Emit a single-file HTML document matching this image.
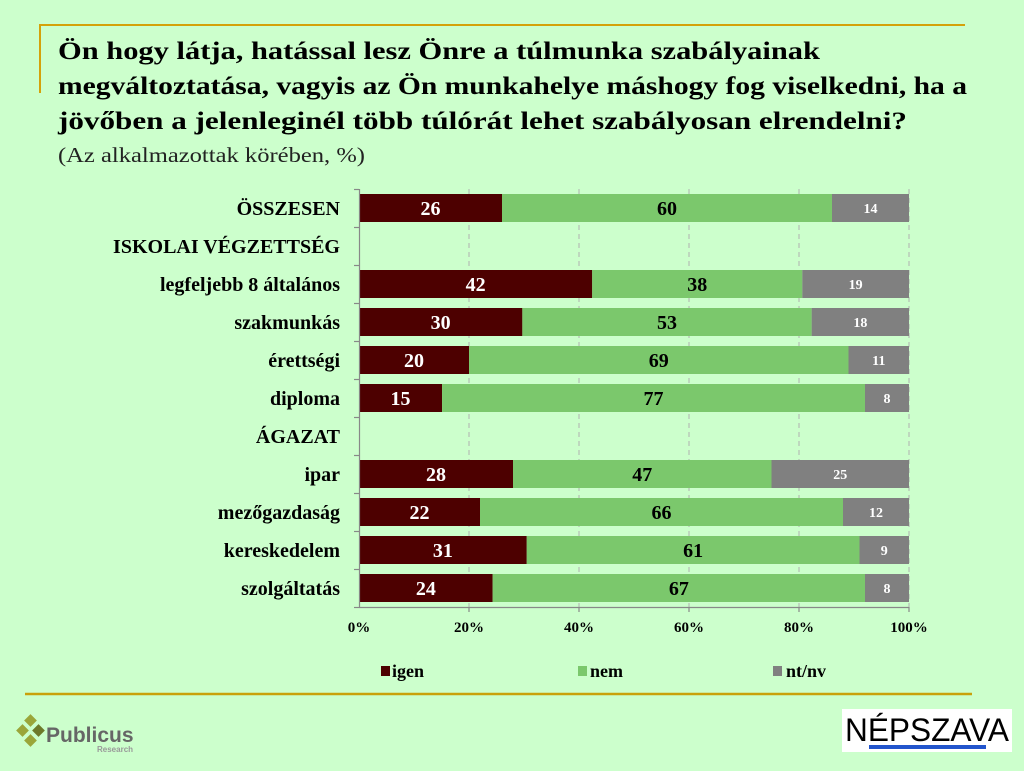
<!DOCTYPE html>
<html><head><meta charset="utf-8"><style>
html,body{margin:0;padding:0;background:#ccffcc;}
svg{display:block;}
</style></head><body>
<svg width="1024" height="771" xmlns="http://www.w3.org/2000/svg" font-family="Liberation Serif, serif">
<rect width="1024" height="771" fill="#ccffcc"/>
<path d="M40 93 V25 H965" fill="none" stroke="#d4a20a" stroke-width="2"/>
<line x1="25" y1="694" x2="972" y2="694" stroke="#c9a10a" stroke-width="2.5"/>
<g font-weight="bold" font-size="25" fill="#000">
<text x="58" y="59" textLength="762" lengthAdjust="spacingAndGlyphs">Ön hogy látja, hatással lesz Önre a túlmunka szabályainak</text>
<text x="58" y="94" textLength="909" lengthAdjust="spacingAndGlyphs">megváltoztatása, vagyis az Ön munkahelye máshogy fog viselkedni, ha a</text>
<text x="58" y="129" textLength="849" lengthAdjust="spacingAndGlyphs">jövőben a jelenleginél több túlórát lehet szabályosan elrendelni?</text>
</g>
<text x="58" y="162" font-size="21" fill="#222" textLength="307" lengthAdjust="spacingAndGlyphs">(Az alkalmazottak körében, %)</text>
<g stroke="#b0b0b0" stroke-dasharray="5,4" stroke-width="1">
<line x1="469" y1="189" x2="469" y2="607"/><line x1="579" y1="189" x2="579" y2="607"/>
<line x1="689" y1="189" x2="689" y2="607"/><line x1="799" y1="189" x2="799" y2="607"/>
<line x1="909" y1="189" x2="909" y2="607"/>
</g>
<g id="bars" font-weight="bold" text-anchor="middle"></g>
<g stroke="#888" stroke-width="1.2">
<line x1="359.5" y1="189" x2="359.5" y2="607"/>
<line x1="359" y1="607.5" x2="909" y2="607.5"/>
</g>
<g id="ticks" stroke="#888" stroke-width="1.2"></g>
<g font-weight="bold" font-size="20" text-anchor="end" fill="#000" id="labels"></g>
<g font-weight="bold" font-size="15" text-anchor="middle">
<text x="359" y="632">0%</text><text x="469" y="632">20%</text><text x="579" y="632">40%</text>
<text x="689" y="632">60%</text><text x="799" y="632">80%</text><text x="909" y="632">100%</text>
</g>
<g font-weight="bold" font-size="18">
<rect x="381" y="666" width="9" height="10" fill="#4d0000"/><text x="392" y="677">igen</text>
<rect x="578" y="666" width="9" height="10" fill="#7bc86c"/><text x="590" y="677">nem</text>
<rect x="773" y="666" width="9" height="10" fill="#808080"/><text x="786" y="677">nt/nv</text>
</g>
<g>
<g fill="#9aa63a"><rect x="26" y="716" width="9" height="9" transform="rotate(45 30.5 720.5)"/>
<rect x="18" y="726" width="9" height="9" transform="rotate(45 22.5 730.5)"/>
<rect x="26" y="736" width="9" height="9" transform="rotate(45 30.5 740.5)"/>
<rect x="34" y="726" width="9" height="9" transform="rotate(45 38.5 730.5)" fill="#6d7a2a"/></g>
<text x="46" y="742" font-family="Liberation Sans, sans-serif" font-weight="bold" font-size="21" fill="#666">Publicus</text>
<text x="97" y="752" font-family="Liberation Sans, sans-serif" font-weight="bold" font-size="8" fill="#999">Research</text>
</g>
<rect x="842" y="709" width="170" height="43" fill="#fff"/>
<text x="845" y="741" font-family="Liberation Sans, sans-serif" font-size="32" fill="#000" textLength="164" lengthAdjust="spacingAndGlyphs">NÉPSZAVA</text>
<rect x="869" y="745" width="117" height="4" fill="#2255cc"/>
<script>
var rows=[["ÖSSZESEN",[26,60,14]],["ISKOLAI VÉGZETTSÉG",null],["legfeljebb 8 általános",[42.4,38.2,19.4]],["szakmunkás",[29.7,52.6,17.7]],["érettségi",[20,69,11]],["diploma",[15.1,76.9,8]],["ÁGAZAT",null],["ipar",[28,47,25]],["mezőgazdaság",[22,66,12]],["kereskedelem",[30.5,60.5,9]],["szolgáltatás",[24.3,67.7,8]]];
var lbl=[[26,60,14],[],[42,38,19],[30,53,18],[20,69,11],[15,77,8],[],[28,47,25],[22,66,12],[31,61,9],[24,67,8]];
var cols=["#4d0000","#7bc86c","#808080"],tc=["#fff","#000","#fff"],fs=[20,20,14];
var ns="http://www.w3.org/2000/svg",B=document.getElementById("bars"),L=document.getElementById("labels"),T=document.getElementById("ticks");
function el(p,n,a,t){var e=document.createElementNS(ns,n);for(var k in a)e.setAttribute(k,a[k]);if(t!=null)e.textContent=t;p.appendChild(e);return e;}
for(var i=0;i<=11;i++)el(T,"line",{x1:354,x2:359,y1:189+i*38+.5,y2:189+i*38+.5});
[469,579,689,799,909].forEach(function(x){el(T,"line",{x1:x,x2:x,y1:607,y2:612});});
rows.forEach(function(r,i){var cy=208+i*38;
el(L,"text",{x:340,y:cy+7},r[0]);
if(!r[1])return;var s=r[1][0]+r[1][1]+r[1][2],x=359;
r[1].forEach(function(v,j){var w=v/s*550;el(B,"rect",{x:x,y:cy-14,width:w,height:28,fill:cols[j]});
el(B,"text",{x:x+w/2,y:cy+(j==2?5:7),fill:tc[j],"font-size":fs[j]},lbl[i][j]);x+=w;});});
</script>
</svg>
</body></html>
